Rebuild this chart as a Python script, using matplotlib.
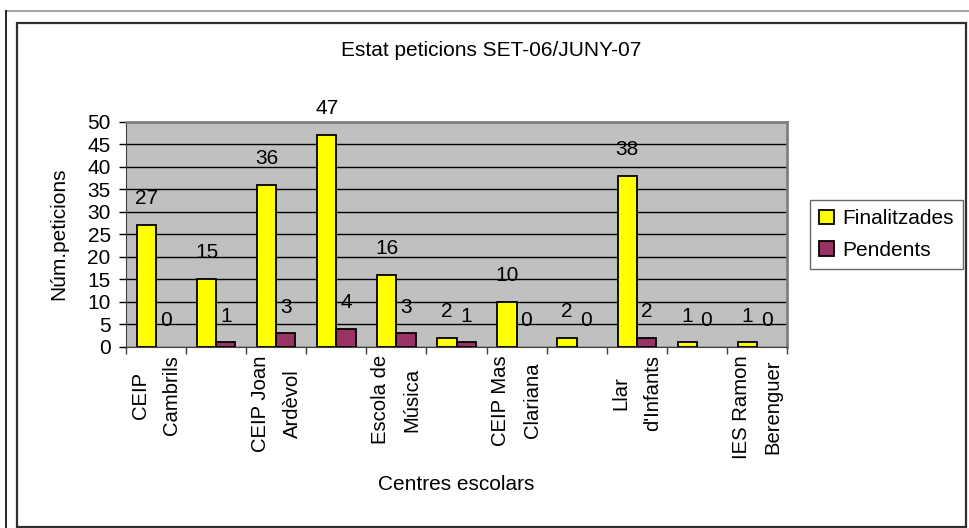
import numpy as np
import matplotlib
matplotlib.use("Agg")
import matplotlib.pyplot as plt
from matplotlib.patches import Rectangle
from matplotlib.lines import Line2D

# Datos del gráfico
centres = ["CEIP\nCambrils", "", "CEIP Joan\nArdèvol", "", "Escola de\nMúsica", "",
           "CEIP Mas\nClariana", "", "Llar\nd'Infants", "", "IES Ramon\nBerenguer"]
finalitzades = [27, 15, 36, 47, 16, 2, 10, 2, 38, 1, 1]
pendents = [0, 1, 3, 4, 3, 1, 0, 0, 2, 0, 0]
y_ticks = list(range(0, 55, 5))

plt.rcParams['font.family'] = ['Liberation Sans', 'DejaVu Sans']
FS = 15

W, H = 969, 528
fig = plt.figure(figsize=(W / 100, H / 100), dpi=100)

# marcos exteriores
fig.add_artist(Line2D([5.5 / W, 1], [1 - 11 / H, 1 - 11 / H], transform=fig.transFigure,
                      color="#909090", lw=1.2))
fig.add_artist(Line2D([5.5 / W, 5.5 / W], [0, 1 - 11 / H], transform=fig.transFigure,
                      color="black", lw=1.2))
fig.add_artist(Rectangle((17 / W, 1 / H), (966 - 17) / W, (527 - 23) / H,
                         transform=fig.transFigure, fill=False, edgecolor="#303030", lw=1.6))

ax = fig.add_axes([126 / W, 1 - 347 / H, (787 - 126) / W, (347 - 121.5) / H])
ax.set_facecolor("#C0C0C0")

x = np.arange(len(finalitzades))
w = 0.32
b1 = ax.bar(x - w / 2, finalitzades, w, color="#FFFF00", edgecolor="black",
            lw=[1.3 if v else 0 for v in finalitzades], label="Finalitzades", zorder=3)
b2 = ax.bar(x + w / 2, pendents, w, color="#993366", edgecolor="black",
            lw=[1.3 if v else 0 for v in pendents], label="Pendents", zorder=3)

for bars, vals in [(b1, finalitzades), (b2, pendents)]:
    for r, v in zip(bars, vals):
        ax.annotate(str(v), (r.get_x() + r.get_width() / 2, v), xytext=(0, 19),
                    textcoords="offset points", ha="center", va="center",
                    fontsize=FS, annotation_clip=False)

ax.set_xlim(-0.5, len(finalitzades) - 0.5)
ax.set_ylim(0, 50)
ax.set_yticks(y_ticks)
ax.yaxis.grid(True, color="black", lw=1.0, zorder=1)
ax.set_axisbelow(True)

ax.set_xticks(x)
ax.set_xticklabels(centres, rotation=90, ha="center", va="top", multialignment="center",
                   linespacing=1.85, fontsize=FS * 0.97)
ax.set_xticks(np.arange(-0.5, len(finalitzades)), minor=True)
ax.tick_params(axis="x", which="major", length=0, pad=6)
ax.tick_params(axis="x", which="minor", length=5, width=1, color="#404040")
ax.tick_params(axis="y", length=5, width=1, pad=6, labelsize=FS)

for s in ["top", "right"]:
    ax.spines[s].set_color("#808080")
    ax.spines[s].set_linewidth(2)
ax.spines["left"].set_color("#404040")
ax.spines["bottom"].set_color("#404040")

# legend handles with edges
b1.patches[0].set_linewidth(1.3)

ax.set_ylabel("Núm.peticions", fontsize=FS)
ax.yaxis.set_label_coords(-58 / (787 - 126), 0.5)
ax.set_xlabel("Centres escolars", fontsize=FS)
ax.xaxis.set_label_coords(0.5, -(475 - 347) / (347 - 121.5))

fig.text(491.5 / W, 1 - 50 / H, "Estat peticions SET-06/JUNY-07", ha="center", va="center",
         fontsize=FS)

h1 = Rectangle((0, 0), 1, 1, facecolor="#FFFF00", edgecolor="black", lw=1.3)
h2 = Rectangle((0, 0), 1, 1, facecolor="#993366", edgecolor="black", lw=1.3)
leg = fig.legend(handles=[h1, h2], labels=["Finalitzades", "Pendents"], loc="center left",
                 bbox_to_anchor=(810 / W, 1 - 234.5 / H),
                 fontsize=FS, frameon=True, fancybox=False, edgecolor="#404040",
                 handlelength=0.7, handleheight=0.7, handletextpad=0.4,
                 labelspacing=0.6, borderpad=0.45, borderaxespad=0)
leg.get_frame().set_linewidth(1.0)

fig.savefig("out.png", dpi=100)
